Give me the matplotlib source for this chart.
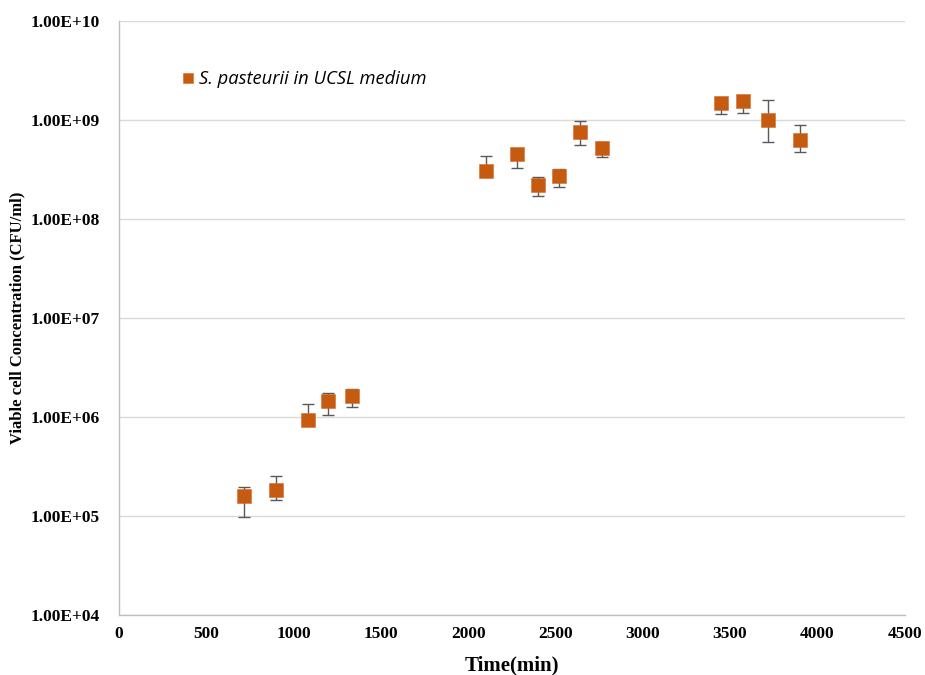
import matplotlib.pyplot as plt
import numpy as np

# time (min) and viable cell counts (CFU/ml)
time = [715, 900, 1080, 1200, 1335, 2100, 2280, 2400, 2520, 2640, 2765, 3450, 3575, 3720, 3900]
cfu = [1.59e5, 1.84e5, 9.4e5, 1.44e6, 1.63e6, 3.05e8, 4.57e8, 2.19e8, 2.74e8, 7.56e8, 5.21e8,
       1.49e9, 1.56e9, 9.93e8, 6.23e8]
err_hi = [1.98e5, 2.55e5, 1.35e6, 1.73e6, 1.92e6, 4.36e8, 4.57e8, 2.67e8, 3.2e8, 9.77e8, 6.0e8,
          1.49e9, 1.56e9, 1.6e9, 8.97e8]
err_lo = [9.84e4, 1.45e5, 9.4e5, 1.05e6, 1.26e6, 3.05e8, 3.27e8, 1.72e8, 2.1e8, 5.59e8, 4.26e8,
          1.16e9, 1.19e9, 6.04e8, 4.79e8]

cfu = np.array(cfu)
yerr = [cfu - np.array(err_lo), np.array(err_hi) - cfu]

fig = plt.figure(figsize=(9.25, 6.75), dpi=100)
ax = fig.add_axes([0.1286, 0.0889, 0.8494, 0.88])

ax.errorbar(time, cfu, yerr=yerr, fmt='none', ecolor='#595959', elinewidth=1.0,
            capsize=4, capthick=1.0, zorder=2)
ax.plot(time, cfu, 's', color='#C55A11', markersize=9.5, markeredgecolor='#D9692A',
        markeredgewidth=0.4, zorder=3, label='S. pasteurii in UCSL medium')

ax.set_yscale('log')
ax.set_ylim(1e4, 1e10)
ax.set_xlim(0, 4500)
ax.set_xticks(np.arange(0, 4501, 500))
ax.set_yticks([10.0 ** k for k in range(4, 11)])
ax.set_yticklabels(['%.2fE+%02d' % (1, k) for k in range(4, 11)])
ax.yaxis.set_minor_locator(plt.NullLocator())
ax.grid(axis='y', color='#d9d9d9', linewidth=1)
ax.set_axisbelow(True)
ax.tick_params(axis='y', length=0, pad=14)
ax.tick_params(axis='x', length=0, pad=8)
for lab in ax.get_xticklabels() + ax.get_yticklabels():
    lab.set_fontfamily('Liberation Serif')
    lab.set_fontweight('bold')
    lab.set_fontsize(12.5)

for s in ['top', 'right']:
    ax.spines[s].set_visible(False)
for s in ['left', 'bottom']:
    ax.spines[s].set_color('#bfbfbf')
    ax.spines[s].set_linewidth(1)

ax.set_xlabel('Time(min)', fontfamily='Liberation Serif', fontweight='bold', fontsize=15)
ax.set_ylabel('Viable cell Concentration (CFU/ml)', fontfamily='Liberation Serif',
              fontweight='bold', fontsize=12)
ax.xaxis.label.set_va('center')
ax.yaxis.label.set_va('center')
ax.xaxis.set_label_coords(0.5, -0.085)
ax.yaxis.set_label_coords(-0.129, 0.5)

leg = ax.legend(loc='upper left', bbox_to_anchor=(0.055, 0.945), frameon=False,
                prop={'family': 'Open Sans', 'style': 'italic', 'size': 13.2},
                handletextpad=0.1, handlelength=1.0, markerscale=0.8)

fig.savefig('out.png', dpi=100)
